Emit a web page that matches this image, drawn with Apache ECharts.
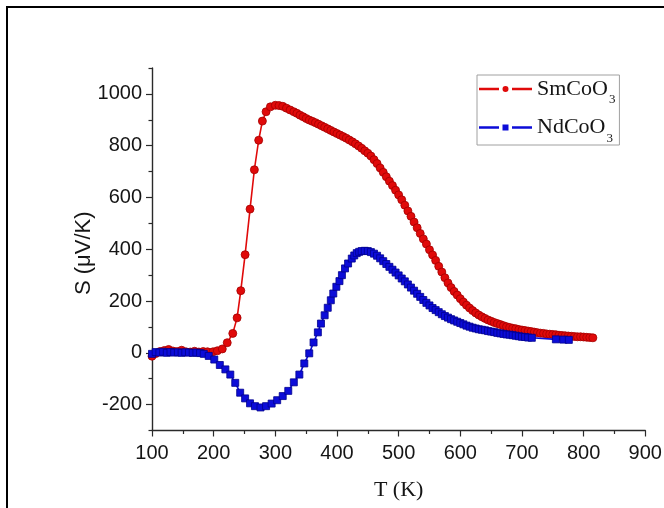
<!DOCTYPE html>
<html>
<head>
<meta charset="utf-8">
<script src="https://cdn.jsdelivr.net/npm/echarts@6/dist/echarts.min.js"></script>
<style>
  html, body { margin: 0; padding: 0; background: #fff; }
  #chart { width: 664px; height: 508px; }
</style>
</head>
<body>
<div id="chart"></div>
<script>
// Thermopower S(T) of SmCoO3 and NdCoO3
const seriesNames = ['SmCoO3', 'NdCoO3'];

const smT = [100,106,113,120,127,134,141,148,155,162,169,176,183,190,199,206,214,222,231,238,
  244,251,259,266,273,279,285,292,300,306,312,318,324,330,335,340,345,350,355,360,
  365,370,375,380,385,390,395,400,405,410,415,420,425,430,435,440,445,450,455,460,
  465,470,475,480,485,490,495,500,505,510,515,520,525,530,535,540,545,550,555,560,
  565,570,575,580,585,590,595,600,605,610,615,620,625,630,635,640,645,650,655,660,
  665,670,675,680,685,690,695,700,705,710,715,720,725,730,735,740,745,750,755,760,
  765,770,775,780,785,790,795,800,805,810,815];
const smS = [-13,-3,5,9,13,7,5,10,4,3,6,3,5,4,4,8,15,39,75,135,
  240,379,555,707,821,895,931,950,956,955,952,945,938,931,925,918,912,905,899,894,
  889,883,877,871,865,859,853,847,841,835,829,822,815,807,799,790,780,771,760,746,
  731,714,697,680,663,646,628,610,591,570,548,527,505,483,461,440,420,398,378,357,
  334,312,290,270,252,237,223,209,196,184,173,163,154,146,139,133,127,122,117,113,
  109,105,101,98,95,93,90,88,86,84,82,80,78,76,75,73,72,71,70,68,
  67,66,65,64,63,62,62,61,60,59,58];

const ndT = [100,106,112,118,124,130,136,142,148,154,160,166,172,178,184,192,201,210,219,227,
  235,243,251,259,267,276,285,294,303,312,321,330,339,347,355,362,369,374,380,385,
  390,394,399,404,408,413,418,424,428,432,436,440,445,450,455,460,465,470,475,480,
  485,490,495,500,505,510,515,520,525,530,535,540,545,550,555,560,565,570,575,580,
  585,590,595,600,605,610,615,620,625,630,635,640,645,650,655,660,665,670,675,680,
  685,690,695,700,705,710,716,755,767,776];
const ndS = [-4,3,1,4,0,3,1,2,0,2,1,0,1,-1,-4,-12,-26,-47,-64,-84,
  -116,-154,-176,-195,-206,-211,-206,-196,-183,-167,-147,-114,-84,-41,-2,40,79,113,145,174,
  203,229,255,277,300,326,345,364,376,385,390,393,394,393,389,383,375,365,354,343,
  332,321,310,299,287,276,264,252,240,228,216,204,193,183,173,165,157,149,142,136,
  130,125,120,115,110,105,101,97,94,91,89,87,84,82,80,77,75,73,71,70,
  68,66,64,62,61,59,58,52,51,50];

// axis ticks
const xTickValues = [100,200,300,400,500,600,700,800,900];
const yLabelValues = [-200,0,200,400,600,800,1000];
const yMinorValues = [-300,-100,100,300,500,700,900,1100];

// legend keys: dash, marker, dash (gaps left around the marker)
const dashes = 'M0 1.7H20V4.3H0Z M33 1.7H53V4.3H33Z ';
const legendIcons = [
  'path://' + dashes + 'M29.5 3A3 3 0 1 1 23.5 3A3 3 0 1 1 29.5 3Z',
  'path://' + dashes + 'M23.5 0H29.5V6H23.5Z'
];

const pairs = (xs, ys) => xs.map((x, i) => [x, ys[i]]);

const axisColor = '#2a2a2a';
const labelFont = { fontFamily: 'Liberation Sans, Arial, sans-serif', fontSize: 20, color: '#151515' };
const plain = v => String(v);

const chart = echarts.init(document.getElementById('chart'), null, { renderer: 'canvas' });

chart.setOption({
  animation: false,
  backgroundColor: '#ffffff',
  graphic: [{
    type: 'rect',
    silent: true,
    z: -10,
    shape: { x: 7, y: 7, width: 720, height: 620 },
    style: { fill: 'none', stroke: '#000', lineWidth: 2 }
  }],
  grid: {
    left: 152, right: 18.7, top: 68, bottom: 77.5,
    containLabel: false,
    outerBoundsMode: 'none'
  },
  legend: {
    orient: 'vertical',
    left: 477, top: 75,
    itemWidth: 53, itemHeight: 6, itemGap: 9,
    padding: [2, 4, 0, 2],
    borderColor: '#a0a0a0', borderWidth: 1,
    data: seriesNames.map((n, i) => ({ name: n, icon: legendIcons[i] })),
    itemStyle: { borderWidth: 0 },
    formatter: n => '{a|' + n.slice(0, -1) + '}{s|' + n.slice(-1) + '}',
    textStyle: {
      rich: {
        a: { fontFamily: 'Liberation Serif, Times New Roman, serif', fontSize: 22, lineHeight: 24, color: '#151515' },
        s: { fontFamily: 'Liberation Serif, Times New Roman, serif', fontSize: 13, lineHeight: 24, height: 2, padding: [22, 0, 0, 1], color: '#151515' }
      }
    }
  },
  xAxis: {
    type: 'value',
    min: 100, max: 900, interval: 100,
    name: 'T (K)',
    nameLocation: 'middle',
    nameGap: 49,
    nameMoveOverlap: false,
    nameTextStyle: { fontFamily: 'Liberation Serif, Times New Roman, serif', fontSize: 22, color: '#151515' },
    axisLine: { show: true, onZero: false, lineStyle: { color: axisColor, width: 1.4 } },
    axisTick: { show: true, inside: false, length: 6, lineStyle: { color: axisColor, width: 1.2 } },
    minorTick: { show: true, splitNumber: 2, length: 3.5, lineStyle: { color: axisColor, width: 1.2 } },
    axisLabel: Object.assign({ margin: 13, customValues: xTickValues, formatter: plain }, labelFont),
    splitLine: { show: false },
    minorSplitLine: { show: false }
  },
  yAxis: [{
    type: 'value',
    position: 'left',
    min: -300, max: 1100, interval: 100,
    name: 'S (\u03bcV/K)',
    nameLocation: 'middle',
    nameGap: 57,
    nameRotate: 90,
    nameMoveOverlap: false,
    nameTextStyle: { fontFamily: 'Liberation Sans, Arial, sans-serif', fontSize: 22, color: '#151515', padding: [0, 8, 0, 0] },
    axisLine: { show: true, onZero: false, lineStyle: { color: axisColor, width: 1.4 } },
    axisTick: { show: true, inside: false, length: 6, customValues: yLabelValues, lineStyle: { color: axisColor, width: 1.2 } },
    axisLabel: Object.assign({ margin: 10, customValues: yLabelValues, formatter: plain }, labelFont),
    splitLine: { show: false }
  }, {
    type: 'value',
    position: 'left',
    offset: 0,
    min: -300, max: 1100, interval: 100,
    axisLine: { show: false },
    axisTick: { show: true, inside: false, length: 3.5, customValues: yMinorValues, lineStyle: { color: axisColor, width: 1.2 } },
    axisLabel: { show: false },
    splitLine: { show: false }
  }],
  series: [{
    name: seriesNames[0],
    type: 'line',
    data: pairs(smT, smS),
    symbol: 'circle',
    symbolSize: 8,
    showSymbol: true,
    showAllSymbol: true,
    lineStyle: { color: '#e00a0a', width: 1.6 },
    itemStyle: { color: '#e00a0a', borderColor: '#a30000', borderWidth: 0.8 },
    z: 2
  }, {
    name: seriesNames[1],
    type: 'line',
    data: pairs(ndT, ndS),
    symbol: 'rect',
    symbolSize: 7,
    showSymbol: true,
    showAllSymbol: true,
    lineStyle: { color: '#0c0cd8', width: 1.6 },
    itemStyle: { color: '#0c0cd8', borderColor: '#00008e', borderWidth: 0.8 },
    z: 3
  }]
});
</script>
</body>
</html>
